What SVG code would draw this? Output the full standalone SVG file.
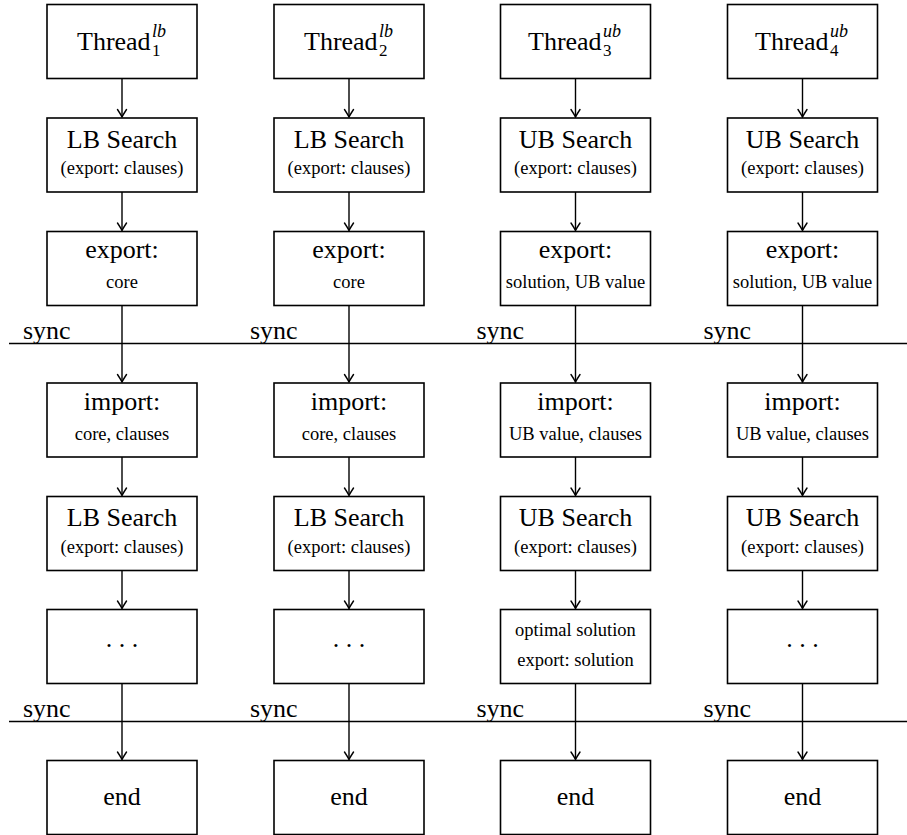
<svg xmlns="http://www.w3.org/2000/svg" width="907" height="835" viewBox="0 0 907 835">
<defs>
<style>
text{font-family:Liberation Serif,serif;fill:#000}
.box{fill:#fff;stroke:#000;stroke-width:1.6}
.m{font-size:26px;text-anchor:middle}
.s{font-size:18.5px;text-anchor:middle}
.t{font-size:26px}
.sup{font-size:18px;font-style:italic}
.sub{font-size:17px}
.c{stroke:#000;stroke-width:1.4;fill:none}
.sync{stroke:#000;stroke-width:1.6}
</style>
<marker id="arr" viewBox="-9 -6 10 12" refX="0" refY="0" markerWidth="10" markerHeight="12" markerUnits="userSpaceOnUse" orient="auto">
<path d="M-7.5,-4.5 Q-2.5,-1.2 0,0 Q-2.5,1.2 -7.5,4.5" fill="none" stroke="#000" stroke-width="1.4" stroke-linecap="round"/>
</marker>
</defs>
<rect width="907" height="835" fill="#fff"/>
<g font-family="Liberation Serif">

<g id="sync-lines">
<line class="sync" x1="9" y1="343.5" x2="907" y2="343.5"/>
<line class="sync" x1="9" y1="721.5" x2="907" y2="721.5"/>
<text class="t" font-family="Liberation Serif" x="23" y="338.5">sync</text>
<text class="t" font-family="Liberation Serif" x="250" y="338.5">sync</text>
<text class="t" font-family="Liberation Serif" x="476.5" y="338.5">sync</text>
<text class="t" font-family="Liberation Serif" x="703.5" y="338.5">sync</text>
<text class="t" font-family="Liberation Serif" x="23" y="716.5">sync</text>
<text class="t" font-family="Liberation Serif" x="250" y="716.5">sync</text>
<text class="t" font-family="Liberation Serif" x="476.5" y="716.5">sync</text>
<text class="t" font-family="Liberation Serif" x="703.5" y="716.5">sync</text>
</g>

<g id="connectors">
<line class="c" x1="122" y1="78.5" x2="122" y2="117" marker-end="url(#arr)"/>
<line class="c" x1="122" y1="192" x2="122" y2="230.5" marker-end="url(#arr)"/>
<line class="c" x1="122" y1="305.5" x2="122" y2="382" marker-end="url(#arr)"/>
<line class="c" x1="122" y1="457" x2="122" y2="495.5" marker-end="url(#arr)"/>
<line class="c" x1="122" y1="570.5" x2="122" y2="608.5" marker-end="url(#arr)"/>
<line class="c" x1="122" y1="683.5" x2="122" y2="759.5" marker-end="url(#arr)"/>

<line class="c" x1="349" y1="78.5" x2="349" y2="117" marker-end="url(#arr)"/>
<line class="c" x1="349" y1="192" x2="349" y2="230.5" marker-end="url(#arr)"/>
<line class="c" x1="349" y1="305.5" x2="349" y2="382" marker-end="url(#arr)"/>
<line class="c" x1="349" y1="457" x2="349" y2="495.5" marker-end="url(#arr)"/>
<line class="c" x1="349" y1="570.5" x2="349" y2="608.5" marker-end="url(#arr)"/>
<line class="c" x1="349" y1="683.5" x2="349" y2="759.5" marker-end="url(#arr)"/>

<line class="c" x1="575.5" y1="78.5" x2="575.5" y2="117" marker-end="url(#arr)"/>
<line class="c" x1="575.5" y1="192" x2="575.5" y2="230.5" marker-end="url(#arr)"/>
<line class="c" x1="575.5" y1="305.5" x2="575.5" y2="382" marker-end="url(#arr)"/>
<line class="c" x1="575.5" y1="457" x2="575.5" y2="495.5" marker-end="url(#arr)"/>
<line class="c" x1="575.5" y1="570.5" x2="575.5" y2="608.5" marker-end="url(#arr)"/>
<line class="c" x1="575.5" y1="683.5" x2="575.5" y2="759.5" marker-end="url(#arr)"/>

<line class="c" x1="802.5" y1="78.5" x2="802.5" y2="117" marker-end="url(#arr)"/>
<line class="c" x1="802.5" y1="192" x2="802.5" y2="230.5" marker-end="url(#arr)"/>
<line class="c" x1="802.5" y1="305.5" x2="802.5" y2="382" marker-end="url(#arr)"/>
<line class="c" x1="802.5" y1="457" x2="802.5" y2="495.5" marker-end="url(#arr)"/>
<line class="c" x1="802.5" y1="570.5" x2="802.5" y2="608.5" marker-end="url(#arr)"/>
<line class="c" x1="802.5" y1="683.5" x2="802.5" y2="759.5" marker-end="url(#arr)"/>
</g>

<g id="thread1">
<rect class="box" x="47" y="4.5" width="150" height="74"/>
<text class="t" font-family="Liberation Serif" x="77" y="50">Thread</text>
<text class="sup" font-family="Liberation Serif" x="152" y="37">lb</text>
<text class="sub" font-family="Liberation Serif" x="152" y="56">1</text>
</g>
<g id="lb1a">
<rect class="box" x="47" y="118" width="150" height="74"/>
<text class="m" font-family="Liberation Serif" x="122" y="147.7">LB Search</text>
<text class="s" font-family="Liberation Serif" x="122" y="174">(export: clauses)</text>
</g>
<g id="exp1">
<rect class="box" x="47" y="231.5" width="150" height="74"/>
<text class="m" font-family="Liberation Serif" x="122" y="258.3">export:</text>
<text class="s" font-family="Liberation Serif" x="122" y="288">core</text>
</g>
<g id="imp1">
<rect class="box" x="47" y="383" width="150" height="74"/>
<text class="m" font-family="Liberation Serif" x="122" y="410">import:</text>
<text class="s" font-family="Liberation Serif" x="122" y="440">core, clauses</text>
</g>
<g id="lb1b">
<rect class="box" x="47" y="496.5" width="150" height="74"/>
<text class="m" font-family="Liberation Serif" x="122" y="526">LB Search</text>
<text class="s" font-family="Liberation Serif" x="122" y="552.5">(export: clauses)</text>
</g>
<g id="dots1">
<rect class="box" x="47" y="609.5" width="150" height="74"/>
<text class="m" font-family="Liberation Serif" x="122" y="647.3">. . .</text>
</g>
<g id="end1">
<rect class="box" x="47" y="760.5" width="150" height="74"/>
<text class="m" font-family="Liberation Serif" x="122" y="805">end</text>
</g>

<g id="thread2">
<rect class="box" x="274" y="4.5" width="150" height="74"/>
<text class="t" font-family="Liberation Serif" x="304" y="50">Thread</text>
<text class="sup" font-family="Liberation Serif" x="379" y="37">lb</text>
<text class="sub" font-family="Liberation Serif" x="379" y="56">2</text>
</g>
<g id="lb2a">
<rect class="box" x="274" y="118" width="150" height="74"/>
<text class="m" font-family="Liberation Serif" x="349" y="147.7">LB Search</text>
<text class="s" font-family="Liberation Serif" x="349" y="174">(export: clauses)</text>
</g>
<g id="exp2">
<rect class="box" x="274" y="231.5" width="150" height="74"/>
<text class="m" font-family="Liberation Serif" x="349" y="258.3">export:</text>
<text class="s" font-family="Liberation Serif" x="349" y="288">core</text>
</g>
<g id="imp2">
<rect class="box" x="274" y="383" width="150" height="74"/>
<text class="m" font-family="Liberation Serif" x="349" y="410">import:</text>
<text class="s" font-family="Liberation Serif" x="349" y="440">core, clauses</text>
</g>
<g id="lb2b">
<rect class="box" x="274" y="496.5" width="150" height="74"/>
<text class="m" font-family="Liberation Serif" x="349" y="526">LB Search</text>
<text class="s" font-family="Liberation Serif" x="349" y="552.5">(export: clauses)</text>
</g>
<g id="dots2">
<rect class="box" x="274" y="609.5" width="150" height="74"/>
<text class="m" font-family="Liberation Serif" x="349" y="647.3">. . .</text>
</g>
<g id="end2">
<rect class="box" x="274" y="760.5" width="150" height="74"/>
<text class="m" font-family="Liberation Serif" x="349" y="805">end</text>
</g>

<g id="thread3">
<rect class="box" x="500.5" y="4.5" width="150" height="74"/>
<text class="t" font-family="Liberation Serif" x="528" y="50">Thread</text>
<text class="sup" font-family="Liberation Serif" x="603" y="37">ub</text>
<text class="sub" font-family="Liberation Serif" x="603" y="56">3</text>
</g>
<g id="ub3a">
<rect class="box" x="500.5" y="118" width="150" height="74"/>
<text class="m" font-family="Liberation Serif" x="575.5" y="147.7">UB Search</text>
<text class="s" font-family="Liberation Serif" x="575.5" y="174">(export: clauses)</text>
</g>
<g id="exp3">
<rect class="box" x="500.5" y="231.5" width="150" height="74"/>
<text class="m" font-family="Liberation Serif" x="575.5" y="258.3">export:</text>
<text class="s" font-family="Liberation Serif" x="575.5" y="288">solution, UB value</text>
</g>
<g id="imp3">
<rect class="box" x="500.5" y="383" width="150" height="74"/>
<text class="m" font-family="Liberation Serif" x="575.5" y="410">import:</text>
<text class="s" font-family="Liberation Serif" x="575.5" y="440">UB value, clauses</text>
</g>
<g id="ub3b">
<rect class="box" x="500.5" y="496.5" width="150" height="74"/>
<text class="m" font-family="Liberation Serif" x="575.5" y="526">UB Search</text>
<text class="s" font-family="Liberation Serif" x="575.5" y="552.5">(export: clauses)</text>
</g>
<g id="opt3">
<rect class="box" x="500.5" y="609.5" width="150" height="74"/>
<text class="s" font-family="Liberation Serif" x="575.5" y="636">optimal solution</text>
<text class="s" font-family="Liberation Serif" x="575.5" y="666">export: solution</text>
</g>
<g id="end3">
<rect class="box" x="500.5" y="760.5" width="150" height="74"/>
<text class="m" font-family="Liberation Serif" x="575.5" y="805">end</text>
</g>

<g id="thread4">
<rect class="box" x="727.5" y="4.5" width="150" height="74"/>
<text class="t" font-family="Liberation Serif" x="755" y="50">Thread</text>
<text class="sup" font-family="Liberation Serif" x="830" y="37">ub</text>
<text class="sub" font-family="Liberation Serif" x="830" y="56">4</text>
</g>
<g id="ub4a">
<rect class="box" x="727.5" y="118" width="150" height="74"/>
<text class="m" font-family="Liberation Serif" x="802.5" y="147.7">UB Search</text>
<text class="s" font-family="Liberation Serif" x="802.5" y="174">(export: clauses)</text>
</g>
<g id="exp4">
<rect class="box" x="727.5" y="231.5" width="150" height="74"/>
<text class="m" font-family="Liberation Serif" x="802.5" y="258.3">export:</text>
<text class="s" font-family="Liberation Serif" x="802.5" y="288">solution, UB value</text>
</g>
<g id="imp4">
<rect class="box" x="727.5" y="383" width="150" height="74"/>
<text class="m" font-family="Liberation Serif" x="802.5" y="410">import:</text>
<text class="s" font-family="Liberation Serif" x="802.5" y="440">UB value, clauses</text>
</g>
<g id="ub4b">
<rect class="box" x="727.5" y="496.5" width="150" height="74"/>
<text class="m" font-family="Liberation Serif" x="802.5" y="526">UB Search</text>
<text class="s" font-family="Liberation Serif" x="802.5" y="552.5">(export: clauses)</text>
</g>
<g id="dots4">
<rect class="box" x="727.5" y="609.5" width="150" height="74"/>
<text class="m" font-family="Liberation Serif" x="802.5" y="647.3">. . .</text>
</g>
<g id="end4">
<rect class="box" x="727.5" y="760.5" width="150" height="74"/>
<text class="m" font-family="Liberation Serif" x="802.5" y="805">end</text>
</g>
</g>
</svg>
